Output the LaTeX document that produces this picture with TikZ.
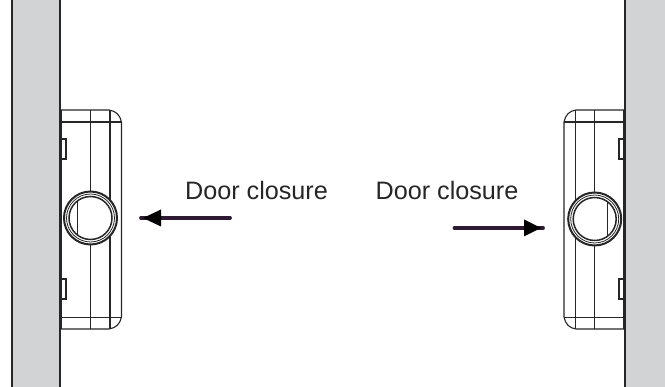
\documentclass[tikz,border=0pt]{standalone}
\usepackage{fontspec}
\setmainfont{Liberation Sans}
\definecolor{wallgrey}{HTML}{D1D3D4}
\definecolor{linegrey}{HTML}{262626}
\definecolor{arrowpurple}{HTML}{2E1A33}
\tikzset{
  wall/.style={fill=wallgrey,draw=none},
  wire/.style={draw=linegrey,line width=1.1pt},
  heavy/.style={draw=linegrey,line width=2.2pt},
  ringa/.style={circle,draw=linegrey,fill=white,line width=2pt,minimum size=53pt,inner sep=0pt},
  ringb/.style={circle,draw=linegrey,line width=0.8pt,minimum size=48pt,inner sep=0pt},
  ringc/.style={circle,draw=linegrey,line width=1.5pt,minimum size=43pt,inner sep=0pt},
  label text/.style={font=\fontsize{25.2}{30}\selectfont,text=black!85,inner sep=0pt,anchor=base},
  shaft/.style={draw=arrowpurple,line width=3.8pt,line cap=round},
  head/.style={fill=black,draw=none}
}
\begin{document}
\begin{tikzpicture}[x=1pt,y=-1pt]
\useasboundingbox (0,0) rectangle (665,387);
% left wall
\path[wall] (12,0) rectangle (60,387);
\path[wire] (12,0) -- (12,387);
\path[wire] (60,0) -- (60,387);
% left device
\path[wire] (60,110) -- (109,110) .. controls (116,111) and (120,115) .. (121.5,122) -- (121.5,317) .. controls (120,324) and (116,328) .. (109,329) -- (60,329);
\path[wire] (60,122) -- (121.5,122);
\path[wire] (60,317.5) -- (121.5,317.5);
\path[wire] (90.5,110) -- (90.5,329);
\path[wire] (110,110) -- (110,329);
\path[wire,fill=white] (60,139) rectangle (66,159);
\path[wire,fill=white] (60,279) rectangle (66,299);
\path[heavy] (61,110) -- (61,329);
\node[ringa] (ringL) at (90.5,218) {};
\node[ringb] (ringLb) at (90.5,218) {};
\node[ringc] (ringLc) at (90.5,218) {};
\path[wire] (77.5,201) -- (77.5,235);
% right wall
\path[wall] (625,0) rectangle (665,387);
\path[wire] (625,0) -- (625,387);
% right device
\path[wire] (625,110) -- (576,110) .. controls (569,111) and (565.5,115) .. (564,122) -- (564,317) .. controls (565.5,324) and (569,328) .. (576,329) -- (625,329);
\path[wire] (625,122) -- (564,122);
\path[wire] (625,317.5) -- (564,317.5);
\path[wire] (575.5,110) -- (575.5,329);
\path[wire] (594.7,110) -- (594.7,329);
\path[wire,fill=white] (625,139) rectangle (619,159);
\path[wire,fill=white] (625,279) rectangle (619,299);
\path[heavy] (624.5,110) -- (624.5,329);
\node[ringa] (ringR) at (594.7,219) {};
\node[ringb] (ringRb) at (594.7,219) {};
\node[ringc] (ringRc) at (594.7,219) {};
\path[wire] (607.7,202) -- (607.7,236);
% labels
\node[label text] (textL) at (256.5,200) {Door closure};
\node[label text] (textR) at (447,200) {Door closure};
% arrows
\coordinate (tailL) at (230,218);
\coordinate (tipL) at (141,218);
\coordinate (tailR) at (454.5,228);
\coordinate (tipR) at (543,228);
\draw[shaft] (tailL) -- (tipL);
\path[head] (143,218) -- (161,209.5) -- (161,226.5) -- cycle;
\draw[shaft] (tailR) -- (tipR);
\path[head] (541,228) -- (524,219.5) -- (524,236.5) -- cycle;
\end{tikzpicture}
\end{document}
